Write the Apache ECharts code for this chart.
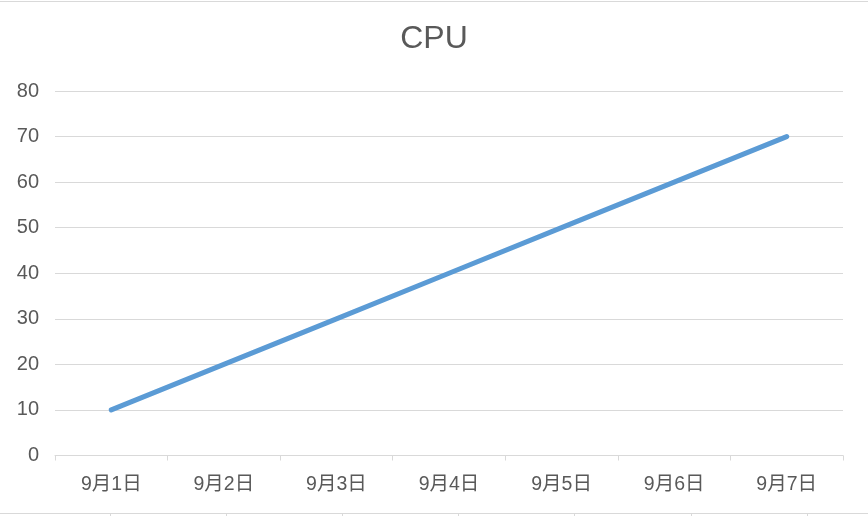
<!DOCTYPE html>
<html><head><meta charset="utf-8">
<script src="https://cdn.jsdelivr.net/npm/echarts@6/dist/echarts.min.js"></script>
<style>html,body{margin:0;padding:0;background:#fff}#c{width:868px;height:516px}</style>
</head><body><div id="c"></div>
<script>
const categories = ['9月1日','9月2日','9月3日','9月4日','9月5日','9月6日','9月7日'];
const cpuValues = [10, 20, 30, 40, 50, 60, 70];
const decoCats = ['', '', '', '', '', '', '', ''];
const font = '"Liberation Sans","Noto Sans CJK SC",sans-serif';
const gridColor = '#d9d9d9';
const textColor = '#595959';
const chart = echarts.init(document.getElementById('c'));
chart.setOption({
  animation: false,
  title: { text: 'CPU', left: 'center', top: 18, textStyle: { fontFamily: font, fontSize: 32, fontWeight: 'normal', color: textColor } },
  grid: [
    { left: 55, right: 25, top: 91, bottom: 60.5 },
    { left: -6, width: 929, top: 512, height: 1, outerBoundsMode: 'none' },
    { left: 0, right: 0, top: 0.5, height: 1 }
  ],
  xAxis: [
    { type: 'category', data: categories, gridIndex: 0, boundaryGap: true,
      axisLine: { lineStyle: { color: gridColor, width: 1 } },
      axisTick: { show: true, length: 5, lineStyle: { color: gridColor } },
      axisLabel: { color: textColor, fontSize: 19.5, fontFamily: font, margin: 19 } },
    { type: 'category', data: decoCats, gridIndex: 1, boundaryGap: true, position: 'top',
      axisLine: { lineStyle: { color: gridColor, width: 1 } },
      axisTick: { show: true, inside: true, length: 5, lineStyle: { color: gridColor } },
      axisLabel: { show: false } },
    { type: 'category', data: [''], gridIndex: 2, position: 'top',
      axisLine: { lineStyle: { color: gridColor, width: 1 } },
      axisTick: { show: false }, axisLabel: { show: false } }
  ],
  yAxis: [
    { type: 'value', gridIndex: 0, min: 0, max: 80, interval: 10,
      axisLine: { show: false }, axisTick: { show: false },
      splitLine: { lineStyle: { color: gridColor, width: 1 } },
      axisLabel: { color: textColor, fontSize: 20, fontFamily: font, margin: 16 } },
    { type: 'value', gridIndex: 1, show: false },
    { type: 'value', gridIndex: 2, show: false }
  ],
  series: [{
    type: 'line', name: 'CPU', data: cpuValues, xAxisIndex: 0, yAxisIndex: 0,
    symbol: 'none', lineStyle: { color: '#5b9bd5', width: 5, cap: 'round' }
  }]
});
</script></body></html>
